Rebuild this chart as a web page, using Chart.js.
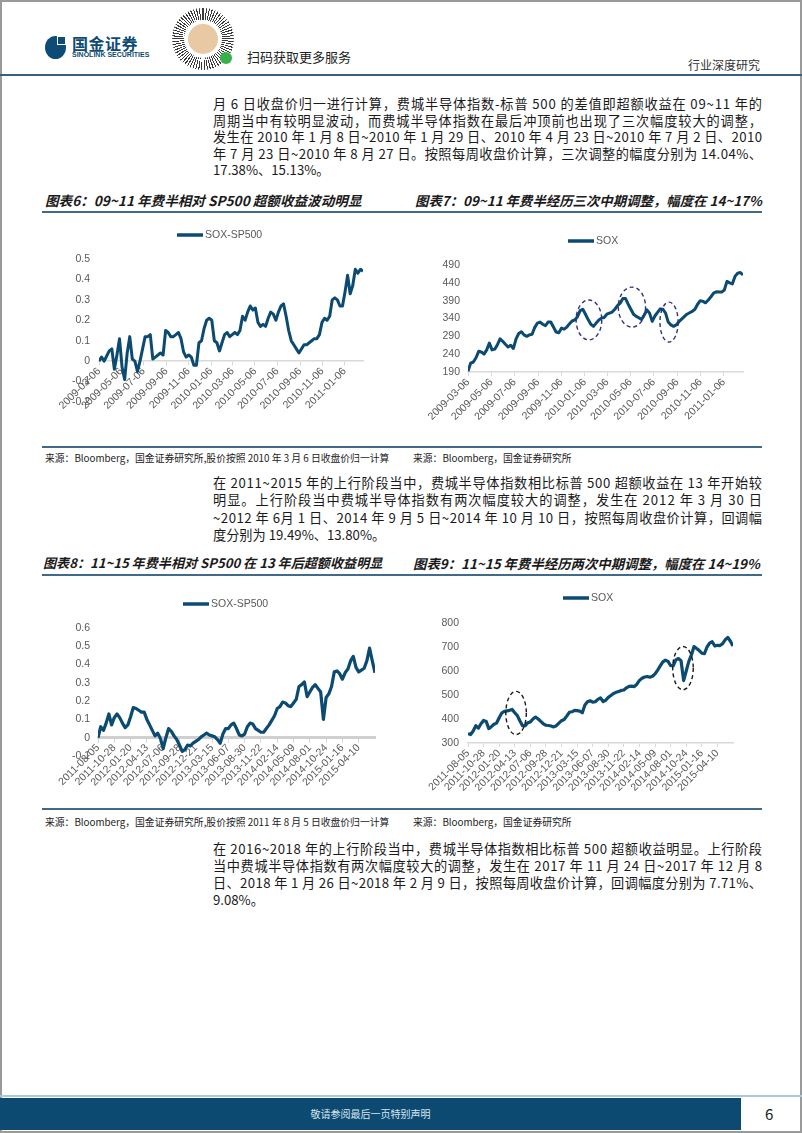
<!DOCTYPE html>
<html lang="zh-CN">
<head>
<meta charset="utf-8">
<title>行业深度研究 - 费城半导体指数</title>
<script src="https://cdn.jsdelivr.net/npm/chart.js@4.4.1/dist/chart.umd.min.js"></script>
<style>
  html, body { margin: 0; padding: 0; background: #fff; }
  #page { position: relative; width: 802px; height: 1133px; overflow: hidden;
          font-family: "Noto Sans CJK SC", sans-serif; color: #1a1a1a; }
  .abs { position: absolute; }
  .frame { left: 0; top: 0; width: 802px; height: 1133px; box-sizing: border-box; border: 2px solid #9a9a9a; }
  .para { position: absolute; left: 213px; width: 549px; font-size: 13.2px; }
  .para div { white-space: nowrap; }
  .para div span { display: inline-block; }
  .title { position: absolute; font-size: 13.4px; font-weight: bold; font-style: italic; line-height: 18px; white-space: nowrap; }
  .rule { position: absolute; left: 42px; width: 720px; height: 2px; background: #3f6a8a; }
  .src { position: absolute; font-size: 9.8px; line-height: 12px; white-space: nowrap; color: #222; }
  canvas { position: absolute; }
</style>
</head>
<body>
<div id="page">
  <div class="abs frame"></div>

  <!-- header -->
  <div class="abs" style="left:45px;top:36px;width:21px;height:23px;border-radius:50%;background:#0f4c75"></div>
  <div class="abs" style="left:57px;top:36px;width:9px;height:9px;background:#fff"></div>
  <div class="abs" style="left:58px;top:37px;width:7px;height:7px;background:#0f4c75"></div>
  <div class="abs" style="left:72px;top:33px;font-size:16px;font-weight:bold;color:#0f4c75;line-height:20px;letter-spacing:0.5px">国金证券</div>
  <div class="abs" style="left:72px;top:51px;font-size:7px;font-weight:bold;color:#0f4c75;line-height:8px;font-family:'Liberation Sans',sans-serif">SINOLINK SECURITIES</div>
  <div class="abs" style="left:172px;top:8px;width:62px;height:62px;border-radius:50%;background:repeating-conic-gradient(#3a3a3a 0deg 2.2deg, #fff 2.2deg 5.5deg)"></div>
  <div class="abs" style="left:184px;top:20px;width:38px;height:38px;border-radius:50%;background:#fff"></div>
  <div class="abs" style="left:188px;top:24px;width:30px;height:30px;border-radius:50%;background:#e9c9a3"></div>
  <div class="abs" style="left:220px;top:52px;width:12px;height:12px;border-radius:50%;background:#37b24a"></div>
  <div class="abs" style="left:247px;top:48px;font-size:13px;line-height:18px;color:#222">扫码获取更多服务</div>
  <div class="abs" style="left:688px;top:57px;font-size:12px;line-height:16px;color:#333">行业深度研究</div>
  <div class="abs" style="left:0;top:74px;width:802px;height:2px;background:#3a5f7d"></div>

  <div class="para" style="top:96px;line-height:16.5px">
    <div class="fill"><span>月 6 日收盘价归一进行计算，费城半导体指数-标普 500 的差值即超额收益在 09~11 年的</span></div>
    <div class="fill"><span>周期当中有较明显波动，而费城半导体指数在最后冲顶前也出现了三次幅度较大的调整，</span></div>
    <div class="fill"><span>发生在 2010 年 1 月 8 日~2010 年 1 月 29 日、2010 年 4 月 23 日~2010 年 7 月 2 日、2010</span></div>
    <div class="fill"><span>年 7 月 23 日~2010 年 8 月 27 日。按照每周收盘价计算，三次调整的幅度分别为 14.04%、</span></div>
    <div><span>17.38%、15.13%。</span></div>
  </div>

  <div class="title" style="left:45px;top:191px;font-size:13.6px">图表6：09~11 年费半相对 SP500 超额收益波动明显</div>
  <div class="title" style="left:415px;top:191px">图表7：09~11 年费半经历三次中期调整，幅度在 14~17%</div>
  <div class="rule" style="top:211px"></div>
  <canvas id="excess0911" width="335" height="210" style="left:40px;top:220px"></canvas>
  <canvas id="sox0911" width="355" height="205" style="left:405px;top:220px"></canvas>
  <div class="rule" style="top:446px;height:1.5px"></div>
  <div class="src" style="left:45px;top:452px">来源：Bloomberg，国金证券研究所,股价按照 2010 年 3 月 6 日收盘价归一计算</div>
  <div class="src" style="left:413px;top:452px">来源：Bloomberg，国金证券研究所</div>

  <div class="para" style="top:474px;line-height:17.3px">
    <div class="fill"><span>在 2011~2015 年的上行阶段当中，费城半导体指数相比标普 500 超额收益在 13 年开始较</span></div>
    <div class="fill"><span>明显。上行阶段当中费城半导体指数有两次幅度较大的调整，发生在 2012 年 3 月 30 日</span></div>
    <div class="fill"><span>~2012 年 6月 1 日、2014 年 9 月 5 日~2014 年 10 月 10 日，按照每周收盘价计算，回调幅</span></div>
    <div><span>度分别为 19.49%、13.80%。</span></div>
  </div>

  <div class="title" style="left:43px;top:554px;font-size:13.1px">图表8：11~15 年费半相对 SP500 在 13 年后超额收益明显</div>
  <div class="title" style="left:413px;top:554px">图表9：11~15 年费半经历两次中期调整，幅度在 14~19%</div>
  <div class="rule" style="top:574px"></div>
  <canvas id="excess1115" width="345" height="215" style="left:40px;top:585px"></canvas>
  <canvas id="sox1115" width="345" height="215" style="left:405px;top:585px"></canvas>
  <div class="rule" style="top:808px;height:1.5px"></div>
  <div class="src" style="left:45px;top:816px">来源：Bloomberg，国金证券研究所,股价按照 2011 年 8 月 5 日收盘价归一计算</div>
  <div class="src" style="left:413px;top:816px">来源：Bloomberg，国金证券研究所</div>

  <div class="para" style="top:839.5px;line-height:17px">
    <div class="fill"><span>在 2016~2018 年的上行阶段当中，费城半导体指数相比标普 500 超额收益明显。上行阶段</span></div>
    <div class="fill"><span>当中费城半导体指数有两次幅度较大的调整，发生在 2017 年 11 月 24 日~2017 年 12 月 8</span></div>
    <div class="fill"><span>日、2018 年 1 月 26 日~2018 年 2 月 9 日，按照每周收盘价计算，回调幅度分别为 7.71%、</span></div>
    <div><span>9.08%。</span></div>
  </div>

  <!-- footer -->
  <div class="abs" style="left:0;top:1095px;width:802px;height:2px;background:#a9cbe0"></div>
  <div class="abs" style="left:0;top:1098px;width:741px;height:32px;background:#0d4a72;color:#d8e6f0;font-size:10px;line-height:32px;text-align:center">敬请参阅最后一页特别声明</div>
  <div class="abs" style="left:765px;top:1104px;font-size:15px;line-height:20px">6</div>
</div>

<script>
// 2009-03-06 .. 2011-02-25, one reading per week
const START_0911 = '2009-03-06';
const WEEKS_0911 = 103;
const TICKS_0911 = ['2009-03-06', '2009-05-06', '2009-07-06', '2009-09-06', '2009-11-06', '2010-01-06',
                    '2010-03-06', '2010-05-06', '2010-07-06', '2010-09-06', '2010-11-06', '2011-01-06'];
const EXCESS_0911 = [0, 0.02, 0, 0.025, 0.05, 0.06, -0.04, 0.03, 0.11, -0.03,
  -0.09, 0.04, 0.12, 0.01, 0, -0.05, 0, 0.06, 0.12, 0.12,
  0.13, 0.01, 0.02, 0.03, 0.04, 0.03, 0.15, 0.14, 0.12, 0.12,
  0.13, 0.14, 0.11, 0.045, 0.02, 0.03, 0.02, -0.02, -0.02, 0.09,
  0.1, 0.16, 0.2, 0.21, 0.2, 0.1, 0.09, 0.05, 0.09, 0.13,
  0.14, 0.12, 0.13, 0.14, 0.13, 0.15, 0.22, 0.2, 0.24, 0.27,
  0.25, 0.26, 0.19, 0.17, 0.18, 0.17, 0.21, 0.24, 0.23, 0.2,
  0.24, 0.27, 0.28, 0.22, 0.15, 0.1, 0.08, 0.06, 0.04, 0.06,
  0.08, 0.08, 0.09, 0.1, 0.11, 0.11, 0.13, 0.19, 0.21, 0.2,
  0.22, 0.3, 0.31, 0.3, 0.27, 0.27, 0.34, 0.42, 0.33, 0.37,
  0.45, 0.43, 0.45, 0.44];
const SOX_0911 = [192, 215, 218, 230, 248, 246, 240, 252, 271, 252,
  254, 266, 283, 276, 268, 260, 265, 256, 283, 298,
  303, 294, 290, 294, 296, 315, 327, 330, 324, 320,
  330, 330, 316, 302, 300, 313, 310, 316, 325, 333,
  336, 345, 362, 366, 352, 337, 324, 318, 327, 336,
  341, 343, 352, 355, 358, 366, 376, 383, 396, 396,
  380, 366, 352, 346, 342, 337, 350, 364, 355, 332,
  347, 357, 367, 366, 355, 330, 322, 318, 322, 331,
  338, 345, 352, 356, 360, 366, 380, 390, 388, 384,
  392, 401, 411, 415, 414, 414, 420, 444, 440, 437,
  458, 467, 469, 462];
// dashed rings round the three pull-backs: [week, level, half-width in weeks, half-height]
const OVALS_0911 = [[45.3, 336, 4.8, 56], [61.4, 372, 5.1, 56], [75.3, 330, 3.4, 56]];

// 2011-08-05 .. 2015-07-03, one reading every second week
const START_1115 = '2011-08-05';
const WEEKS_1115 = 204;
const STEP_1115 = 2;
const TICKS_1115 = ['2011-08-05', '2011-10-28', '2012-01-20', '2012-04-13', '2012-07-06', '2012-09-28',
                    '2012-12-21', '2013-03-15', '2013-06-07', '2013-08-30', '2013-11-22', '2014-02-14',
                    '2014-05-09', '2014-08-01', '2014-10-24', '2015-01-16', '2015-04-10'];
const EXCESS_1115 = [0, 0.06, 0.04, 0.08, 0.13, 0.07, 0.11, 0.13, 0.11, 0.08,
  0.055, 0.07, 0.115, 0.165, 0.16, 0.15, 0.14, 0.14, 0.1, 0.07,
  0.04, 0.01, 0.025, -0.005, -0.06, 0, 0.05, 0.035, 0.01, -0.01,
  -0.04, -0.075, -0.065, -0.04, -0.045, -0.03, -0.02, -0.01, 0.005, 0.015,
  0.025, 0.015, 0.01, 0.005, -0.01, -0.03, 0.02, 0.05, 0.05, 0.07,
  0.08, 0.05, 0.015, 0.01, 0.02, 0.06, 0.08, 0.075, 0.05, 0.04,
  0.03, 0.03, 0.05, 0.07, 0.095, 0.12, 0.16, 0.17, 0.195, 0.19,
  0.175, 0.17, 0.19, 0.21, 0.28, 0.29, 0.305, 0.225, 0.25, 0.275,
  0.29, 0.27, 0.25, 0.1, 0.22, 0.24, 0.28, 0.36, 0.365, 0.35,
  0.32, 0.355, 0.375, 0.42, 0.445, 0.385, 0.36, 0.37, 0.38, 0.42,
  0.49, 0.42, 0.355];
const SOX_1115 = [340, 335, 350, 372, 362, 380, 394, 390, 360, 368,
  378, 383, 405, 425, 432, 434, 436, 440, 426, 414,
  392, 372, 372, 384, 388, 400, 408, 400, 390, 380,
  374, 373, 371, 367, 372, 383, 393, 398, 412, 428,
  430, 436, 435, 433, 426, 458, 472, 476, 470, 472,
  482, 488, 472, 478, 490, 498, 506, 511, 515, 519,
  521, 530, 536, 537, 535, 545, 561, 570, 575, 577,
  574, 578, 588, 604, 621, 638, 645, 640, 622, 622,
  646, 652, 643, 560, 600, 640, 667, 702, 694, 685,
  674, 672, 700, 716, 722, 704, 707, 706, 714, 730,
  740, 724, 704];
const OVALS_1115 = [[37, 425, 7.9, 90], [165.5, 612, 7.9, 90]];

const NAVY = '#0b4b72';
const GREY_TEXT = '#595959';
Chart.defaults.font.family = '"Liberation Sans", Arial, sans-serif';

// stretch each full text line to the column width, the way the report sets it
document.querySelectorAll('.para div.fill span').forEach(span => {
    const text = span.textContent;
    const room = span.parentNode.clientWidth - span.getBoundingClientRect().width;
    const gaps = Array.from(text).length - 1;
    if (gaps > 0) span.style.letterSpacing = (room / gaps) + 'px';
});

function weekOf(start, day) {
    return (Date.parse(day) - Date.parse(start)) / (7 * 24 * 3600 * 1000);
}

// small legend: a short thick line and the series name
const keyPlugin = {
    id: 'key',
    afterDraw(chart, args, opts) {
        const ds = chart.data.datasets[0];
        const ctx = chart.ctx;
        ctx.save();
        ctx.strokeStyle = ds.borderColor;
        ctx.lineWidth = 3.5;
        ctx.beginPath();
        ctx.moveTo(opts.x, opts.y);
        ctx.lineTo(opts.x + 26, opts.y);
        ctx.stroke();
        ctx.fillStyle = GREY_TEXT;
        ctx.font = '10.5px "Liberation Sans", Arial, sans-serif';
        ctx.textBaseline = 'middle';
        ctx.fillText(ds.label, opts.x + 28, opts.y + 0.5);
        ctx.restore();
    }
};

// dashed ellipses marking the corrections, placed in data units
const ovalPlugin = {
    id: 'ovals',
    afterDatasetsDraw(chart, args, opts) {
        if (!opts.items || !opts.items.length) return;
        const { ctx, scales: { x, y } } = chart;
        ctx.save();
        ctx.strokeStyle = opts.color;
        ctx.lineWidth = 1.4;
        ctx.setLineDash([4, 3]);
        opts.items.forEach(([wx, wy, dx, dy]) => {
            const cx = x.getPixelForValue(wx), cy = y.getPixelForValue(wy);
            const rx = Math.abs(x.getPixelForValue(wx + dx) - cx);
            const ry = Math.abs(y.getPixelForValue(wy + dy) - cy);
            ctx.beginPath();
            ctx.ellipse(cx, cy, rx, ry, 0, 0, Math.PI * 2);
            ctx.stroke();
        });
        ctx.restore();
    }
};

function lineChart(id, o) {
    const tickPos = o.ticks.map(d => weekOf(o.start, d));
    return new Chart(document.getElementById(id), {
        type: 'line',
        data: {
            datasets: [{
                label: o.label,
                data: o.values.map((v, i) => ({ x: i * o.step, y: v })),
                borderColor: NAVY,
                borderWidth: o.lineWidth || 3,
                borderJoinStyle: 'round',
                pointRadius: 0,
                tension: 0,
                fill: false
            }]
        },
        options: {
            responsive: false,
            animation: false,
            events: [],
            layout: { padding: o.pad },
            plugins: {
                legend: { display: false },
                tooltip: { enabled: false },
                key: o.key,
                ovals: { items: o.ovals || [], color: o.ovalColor }
            },
            scales: {
                x: {
                    type: 'linear',
                    min: 0,
                    max: o.weeks,
                    position: o.xAt,
                    afterBuildTicks: s => { s.ticks = tickPos.map(v => ({ value: v })); },
                    afterFit: s => { if (o.xHeight) s.height = o.xHeight; },
                    grid: { display: true, drawOnChartArea: false, drawTicks: true, tickLength: 4, color: '#d9d9d9' },
                    border: { display: true, color: o.axisColor || '#d9d9d9', width: o.axisWidth || 1.5, dash: o.axisDash || [] },
                    ticks: {
                        autoSkip: false, minRotation: 45, maxRotation: 45, padding: 0,
                        color: GREY_TEXT, font: { size: 10.5 },
                        callback: (v, i) => o.ticks[i]
                    }
                },
                y: {
                    min: o.yMin,
                    max: o.yMax,
                    afterFit: s => { s.width = o.yWidth; },
                    grid: { display: false, drawTicks: false },
                    border: { display: false },
                    ticks: {
                        stepSize: o.yStep, padding: o.yPad,
                        color: GREY_TEXT, font: { size: 10.5 },
                        callback: o.fmt
                    }
                }
            }
        },
        plugins: [keyPlugin, ovalPlugin]
    });
}

const fmtShare = v => (Math.abs(v) < 1e-9 ? '0' : v.toFixed(1));
const fmtLevel = v => String(Math.round(v));

lineChart('excess0911', {
    label: 'SOX-SP500', values: EXCESS_0911, step: 1, weeks: WEEKS_0911,
    start: START_0911, ticks: TICKS_0911, xAt: { y: 0 },
    yMin: -0.2, yMax: 0.5, yStep: 0.1, yWidth: 59, yPad: 9, fmt: fmtShare,
    pad: { top: 39, right: 12, bottom: 28, left: 0 },
    key: { x: 137, y: 15 }
});

lineChart('sox0911', {
    label: 'SOX', values: SOX_0911, step: 1, weeks: WEEKS_0911,
    start: START_0911, ticks: TICKS_0911, xAt: 'bottom', xHeight: 50,
    yMin: 190, yMax: 490, yStep: 50, yWidth: 63, yPad: 8, fmt: fmtLevel,
    pad: { top: 45, right: 17, bottom: 3, left: 0 },
    key: { x: 163, y: 21 },
    ovals: OVALS_0911, ovalColor: '#33307e'
});

lineChart('excess1115', {
    label: 'SOX-SP500', values: EXCESS_1115, step: STEP_1115, weeks: WEEKS_1115,
    start: START_1115, ticks: TICKS_1115, xAt: { y: 0 }, lineWidth: 3.2,
    axisColor: '#cfcfcf', axisWidth: 3, axisDash: [4, 2],
    yMin: -0.1, yMax: 0.6, yStep: 0.1, yWidth: 58, yPad: 8, fmt: fmtShare,
    pad: { top: 43, right: 10, bottom: 44, left: 0 },
    key: { x: 143, y: 19 }
});

lineChart('sox1115', {
    label: 'SOX', values: SOX_1115, step: STEP_1115, weeks: WEEKS_1115,
    start: START_1115, ticks: TICKS_1115, xAt: 'bottom', xHeight: 52, lineWidth: 3.2,
    yMin: 300, yMax: 800, yStep: 50, yWidth: 63, yPad: 9, fmt: fmtLevel,
    pad: { top: 38, right: 17, bottom: 5, left: 0 },
    key: { x: 158, y: 13 },
    ovals: OVALS_1115, ovalColor: '#1a1a1a'
});
</script>
</body>
</html>
